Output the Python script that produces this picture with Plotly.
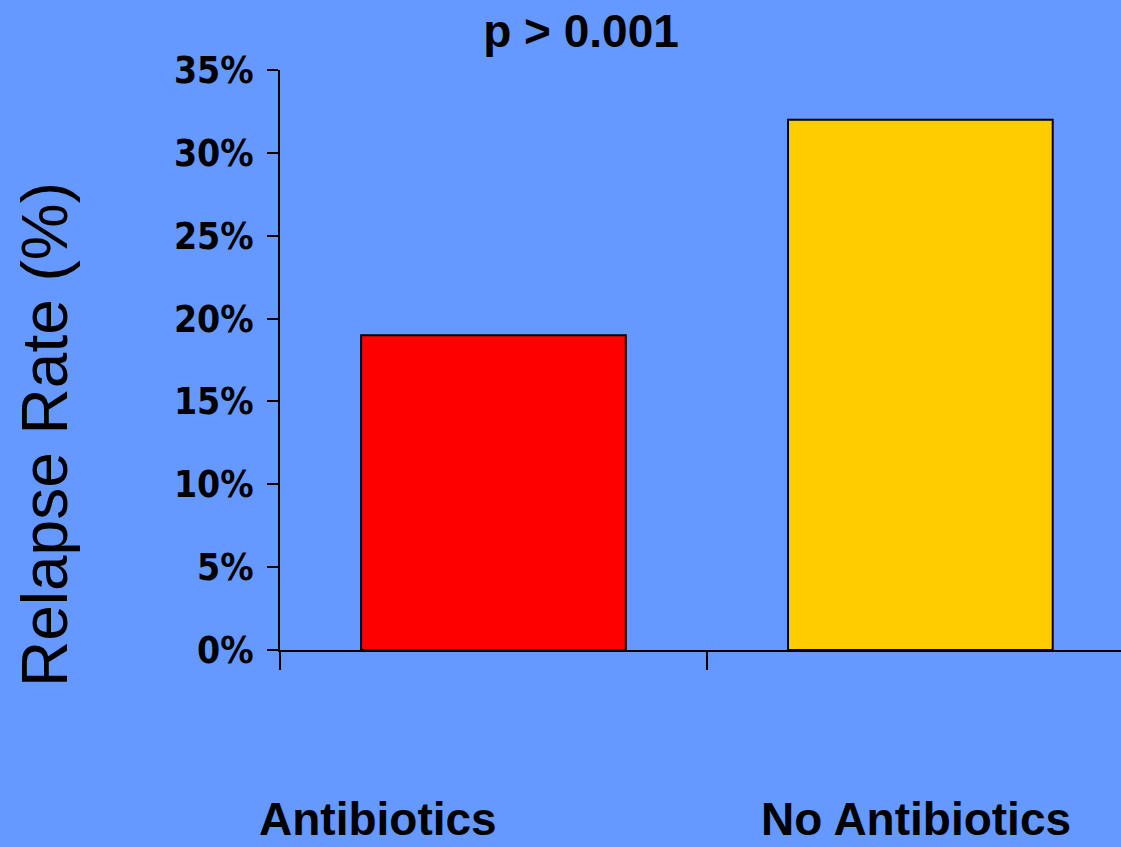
import plotly.graph_objects as go

categories = ["Antibiotics", "No Antibiotics"]
relapse_rate = [0.19, 0.32]
bar_colors = ["#FF0000", "#FFCC00"]
title_text = "p > 0.001"
y_title = "Relapse Rate (%)"

BG = "#6699FF"
W, H = 1121, 847
L, R, T, B = 280, 0, 70, 197
pw = W - L - R
ph = H - T - B

fig = go.Figure()
fig.add_trace(go.Bar(
    x=categories, y=relapse_rate, width=0.62,
    marker=dict(color=bar_colors, line=dict(color="black", width=2)),
    showlegend=False,
))

fig.update_layout(
    width=W, height=H,
    margin=dict(l=L, r=R, t=T, b=B, pad=0),
    paper_bgcolor=BG, plot_bgcolor=BG,
    font=dict(family="Liberation Sans, Arial, sans-serif", color="black"),
    title=dict(text=title_text, x=581 / W, xanchor="center", y=1 - 31 / H, yanchor="middle",
               font=dict(size=46, weight="bold", family="Liberation Sans, Arial, sans-serif")),
)

fig.update_xaxes(
    type="category", range=[-0.5, 1.47],
    showline=True, linecolor="black", linewidth=2,
    ticks="outside", tickson="boundaries", ticklen=18, tickwidth=2, tickcolor="black",
    showticklabels=False, showgrid=False, zeroline=False,
)
fig.update_yaxes(
    range=[0, 0.35], dtick=0.05, tickformat=".0%",
    showline=True, linecolor="black", linewidth=2,
    ticks="outside", ticklen=11, tickwidth=2, tickcolor="black",
    tickfont=dict(size=37, weight="bold", family="Liberation Sans Narrow, DejaVu Sans Condensed, Arial Narrow, sans-serif"),
    ticklabelstandoff=6,
    showgrid=False, zeroline=False,
)

# y-axis title
fig.add_annotation(
    text=y_title, textangle=-90, showarrow=False,
    xref="paper", yref="paper",
    x=(45 - L) / pw, y=(H - B - 435) / ph, xanchor="center", yanchor="middle",
    font=dict(size=64, family="Liberation Sans, Arial, sans-serif"),
)

# category labels
label_x = [377.5, 916]
for name, px in zip(categories, label_x):
    fig.add_annotation(
        text=name, showarrow=False, borderpad=0,
        xref="paper", yref="paper",
        x=(px - L) / pw, y=(H - B - 846) / ph, xanchor="center", yanchor="bottom",
        font=dict(size=46, weight="bold", family="Liberation Sans, Arial, sans-serif"),
    )

fig.write_html(
    "out.html",
    config={"displayModeBar": False},
    post_script="document.body.style.margin='0';document.body.style.overflow='hidden';",
)
